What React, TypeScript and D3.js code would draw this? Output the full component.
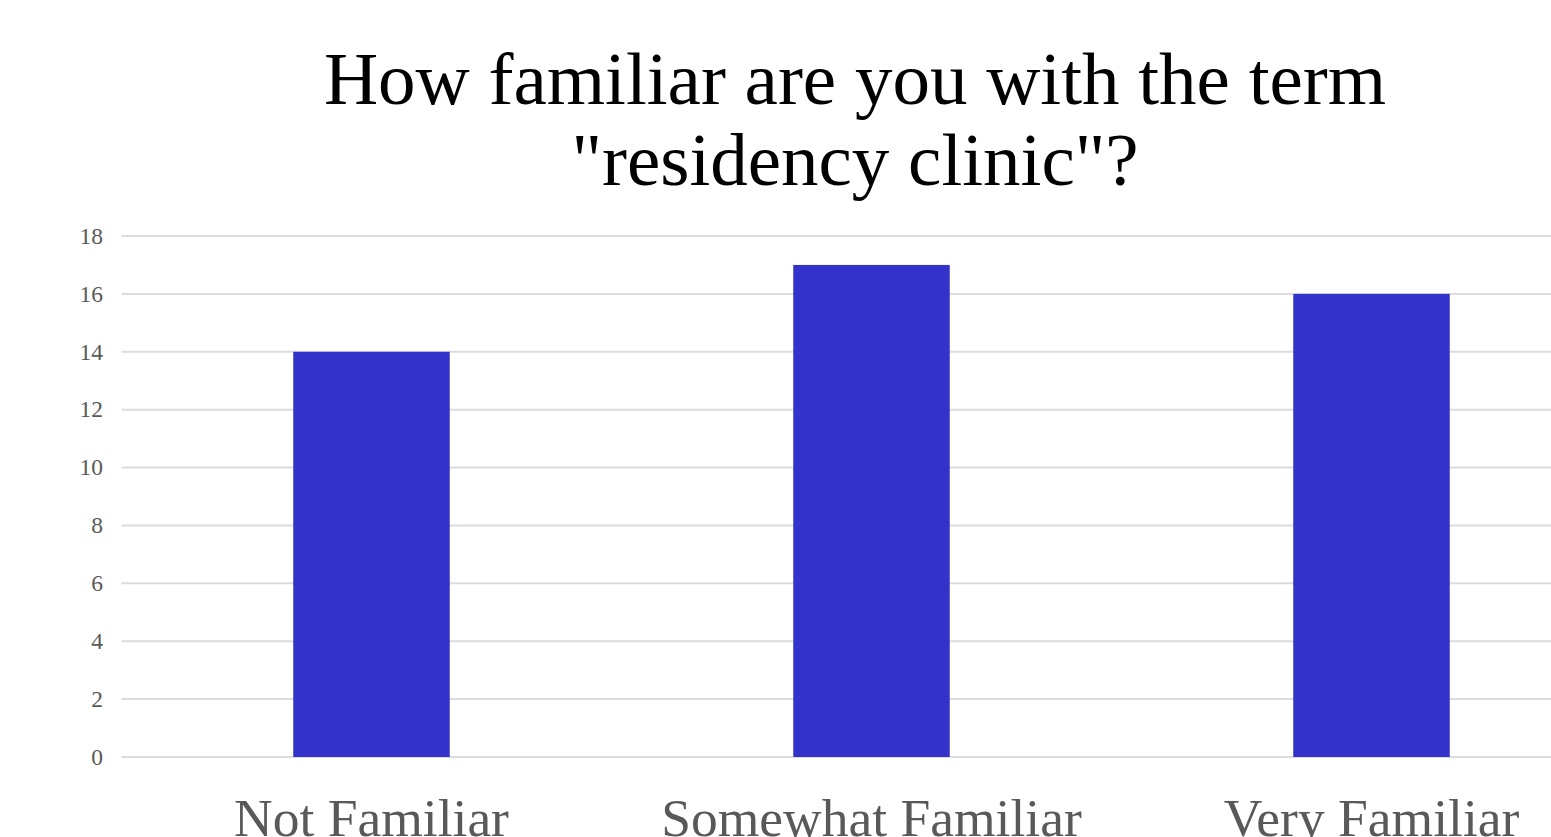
import React from "react";
import * as d3 from "d3";

const categories = ["Not Familiar", "Somewhat Familiar", "Very Familiar"];
const counts = [14, 17, 16];
const yTicks = [0, 2, 4, 6, 8, 10, 12, 14, 16, 18];
const titleLines = ["How familiar are you with the term", "\"residency clinic\"?"];

export default function App() {
  const W = 1551;
  const H = 837;
  const x = d3.scaleBand<string>().domain(categories).range([121.5, 1621.5]).paddingInner(0.687).paddingOuter(0.3435);
  const y = d3.scaleLinear().domain([0, 18]).range([757, 236]);
  const font = "'Liberation Serif', 'Times New Roman', serif";
  return (
    <svg width={W} height={H} style={{ position: "absolute", left: 0, top: 0, background: "#fff" }}>
      <g>
        {titleLines.map((t, i) => (
          <text key={i} x={855} y={104 + i * 81} textAnchor="middle" fontFamily={font} fontSize={75} fill="#000">
            {t}
          </text>
        ))}
      </g>
      <g>
        {yTicks.map((t) => (
          <g key={t}>
            <line x1={121.5} x2={W} y1={y(t)} y2={y(t)} stroke="#dcdcdc" strokeWidth={2} />
            <text x={103} y={y(t)} dy="0.33em" textAnchor="end" fontFamily={font} fontSize={23.5} fill="#595959">
              {t}
            </text>
          </g>
        ))}
      </g>
      <g>
        {categories.map((c, i) => (
          <rect key={c} x={x(c)} y={y(counts[i])} width={x.bandwidth()} height={y(0) - y(counts[i])} fill="#3333cc" />
        ))}
      </g>
      <g>
        {categories.map((c) => (
          <text key={c} x={(x(c) as number) + x.bandwidth() / 2} y={836} textAnchor="middle" fontFamily={font} fontSize={53.5} fill="#595959">
            {c}
          </text>
        ))}
      </g>
    </svg>
  );
}
